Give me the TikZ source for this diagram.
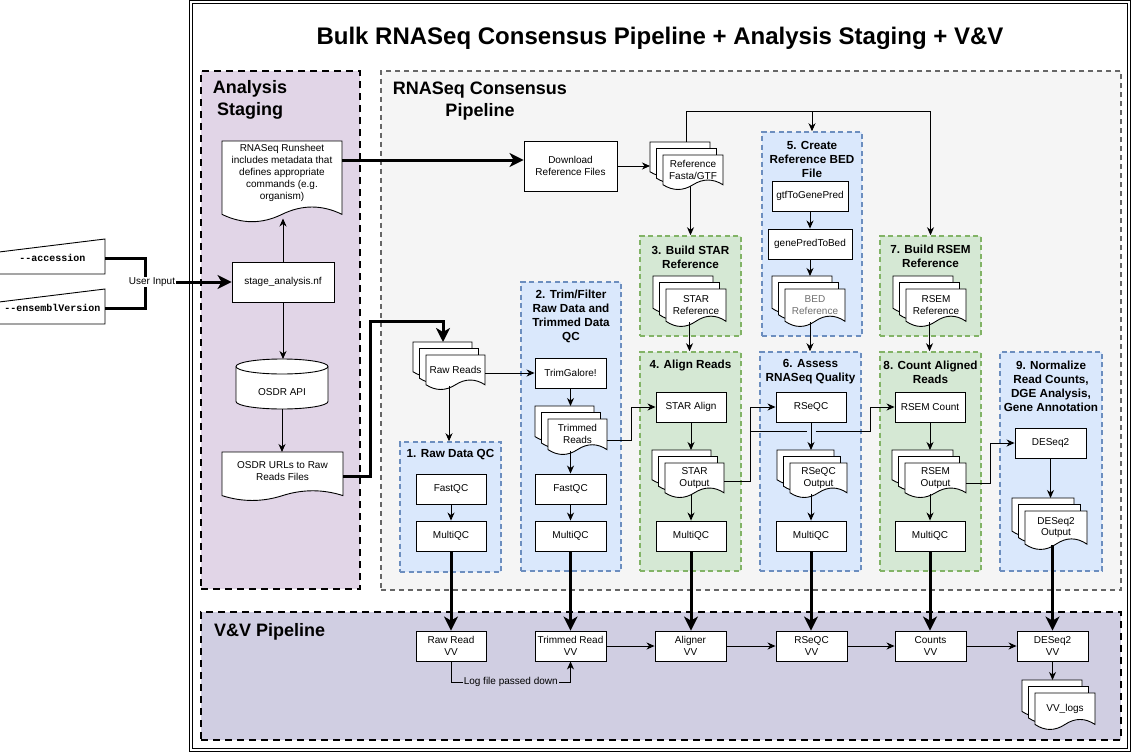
\documentclass[tikz,border=0pt]{standalone}
\usepackage{fontspec}
\setmainfont{Liberation Sans}
\newfontfamily\monobf{Liberation Mono}
\usetikzlibrary{arrows.meta,calc}
\definecolor{purplefill}{HTML}{E1D5E7}
\definecolor{grayfill}{HTML}{F5F5F5}
\definecolor{graydraw}{HTML}{666666}
\definecolor{bluefill}{HTML}{DAE8FC}
\definecolor{bluedraw}{HTML}{6C8EBF}
\definecolor{greenfill}{HTML}{D5E8D4}
\definecolor{greendraw}{HTML}{82B366}
\definecolor{vvfill}{HTML}{D0CEE2}
\definecolor{bedtext}{HTML}{707070}

\tikzset{
 proc/.style={draw=black, fill=white, line width=0.9pt, inner sep=1pt, align=center, font=\fontsize{10}{11.8}\selectfont},
 ghost/.style={inner sep=0pt, outer sep=0pt, align=center, font=\fontsize{10}{11.8}\selectfont},
 docline/.style={draw=black, fill=white, line width=0.9pt},
 grppurple/.style={draw=black, fill=purplefill, line width=1.6pt, dash pattern=on 7pt off 5pt},
 grpgray/.style={draw=graydraw, fill=grayfill, line width=1.2pt, dash pattern=on 5pt off 4pt},
 grpvv/.style={draw=black, fill=vvfill, line width=1.6pt, dash pattern=on 7pt off 5pt},
 grpblue/.style={draw=bluedraw, fill=bluefill, line width=1.5pt, dash pattern=on 5pt off 3.5pt},
 grpgreen/.style={draw=greendraw, fill=greenfill, line width=1.5pt, dash pattern=on 5pt off 3.5pt},
 outerframe/.style={draw=black, double, double distance=1.5pt, line width=1pt},
 arr/.style={draw=black, line width=0.9pt, -{Stealth[length=8pt,width=7pt,inset=2.5pt]}},
 fat/.style={draw=black, line width=3pt, -{Stealth[length=14pt,width=14pt,inset=4pt]}},
 fatline/.style={draw=black, line width=3pt},
 steptitle/.style={font=\fontsize{11.7}{14}\selectfont\bfseries, align=center, inner sep=0pt},
 sectitle/.style={font=\fontsize{18}{22}\selectfont\bfseries, align=center, inner sep=0pt},
 monotext/.style={inner sep=0pt, font=\monobf\bfseries\fontsize{10}{12}\selectfont},
}

% box from corners: name, x0, y0, x1, y1, style, text
\newcommand{\bx}[7]{%
 \pgfmathsetmacro{\zcx}{(#2+#4)/2}\pgfmathsetmacro{\zcy}{(#3+#5)/2}%
 \pgfmathsetmacro{\zw}{#4-#2}\pgfmathsetmacro{\zh}{#5-#3}%
 \node[#6, minimum width=\zw pt, minimum height=\zh pt] (#1) at (\zcx,\zcy) {#7};%
}
% document shape with wavy bottom: x0, y0, x1, y1, size
\newcommand{\wavedoc}[5]{%
 \pgfmathsetmacro{\zA}{#4-0.5*#5*(#4-#2)}%
 \pgfmathsetmacro{\zB}{#4-1.4*#5*(#4-#2)}%
 \pgfmathsetmacro{\zC}{#4+0.4*#5*(#4-#2)}%
 \pgfmathsetmacro{\zM}{(#1+#3)/2}%
 \pgfmathsetmacro{\zQ}{#1+0.75*(#3-#1)}%
 \pgfmathsetmacro{\zP}{#1+0.25*(#3-#1)}%
 \pgfmathsetmacro{\zcAx}{#3+2/3*(\zQ-#3)}%
 \pgfmathsetmacro{\zcBx}{\zM+2/3*(\zQ-\zM)}%
 \pgfmathsetmacro{\zcUy}{\zA+2/3*(\zB-\zA)}%
 \pgfmathsetmacro{\zcCx}{\zM+2/3*(\zP-\zM)}%
 \pgfmathsetmacro{\zcDx}{#1+2/3*(\zP-#1)}%
 \pgfmathsetmacro{\zcLy}{\zA+2/3*(\zC-\zA)}%
 \path[docline] (#1,#2) -- (#3,#2) -- (#3,\zA) .. controls (\zcAx,\zcUy) and (\zcBx,\zcUy) .. (\zM,\zA) .. controls (\zcCx,\zcLy) and (\zcDx,\zcLy) .. (#1,\zA) -- cycle;%
}
% multiple documents: name, x0, y0, x1, y1, text, text style
\newcommand{\multidoc}[7]{%
 \pgfmathsetmacro{\zbx}{#4-13}\pgfmathsetmacro{\zby}{#5-13}%
 \wavedoc{#2}{#3}{\zbx}{\zby}{0.3}%
 \pgfmathsetmacro{\zmxa}{#2+6.5}\pgfmathsetmacro{\zmya}{#3+6.5}\pgfmathsetmacro{\zmxb}{#4-6.5}\pgfmathsetmacro{\zmyb}{#5-6.5}%
 \wavedoc{\zmxa}{\zmya}{\zmxb}{\zmyb}{0.3}%
 \pgfmathsetmacro{\zfx}{#2+13}\pgfmathsetmacro{\zfy}{#3+13}%
 \wavedoc{\zfx}{\zfy}{#4}{#5}{0.3}%
 \pgfmathsetmacro{\zcx}{(#2+#4)/2}\pgfmathsetmacro{\zcy}{(#3+#5)/2}%
 \pgfmathsetmacro{\zw}{#4-#2}\pgfmathsetmacro{\zh}{#5-#3}%
 \node[ghost, minimum width=\zw pt, minimum height=\zh pt] (#1) at (\zcx,\zcy) {};%
 \pgfmathsetmacro{\zby}{#5-0.12*(#5-\zfy)}%
 \coordinate (#1-b) at (\zcx,\zby);%
 \pgfmathsetmacro{\ztx}{(\zfx+#4)/2}\pgfmathsetmacro{\zty}{\zfy+0.425*(#5-\zfy)}%
 \node[ghost, #7] (#1-t) at (\ztx,\zty) {#6};%
}

\begin{document}
\begin{tikzpicture}[x=1pt,y=-1pt]
\useasboundingbox (0,0) rectangle (1132,752);
\fill[white] (0,0) rectangle (1132,752);

% outer frame and title
\bx{frame}{191}{2}{1129}{750}{outerframe}{}
\node[font=\fontsize{24}{28}\selectfont\bfseries, inner sep=0pt] (title) at (660,38) {Bulk RNASeq Consensus Pipeline + Analysis Staging + V\&V};

% big groups
\bx{staging}{201}{71}{360}{589}{grppurple}{}
\bx{consensus}{381}{71}{1121}{590}{grpgray}{}
\bx{vv}{201}{612}{1121}{740}{grpvv}{}

\node[sectitle] (tstaging) at (250,100) {Analysis\\Staging};
\node[sectitle] (tcons) at (480,101) {RNASeq Consensus\\Pipeline};
\node[sectitle, anchor=west] (tvv) at (214,632) {V\&V Pipeline};

% step groups
\bx{box1}{400}{442}{501}{572}{grpblue}{}
\bx{box2}{521}{282}{621}{571}{grpblue}{}
\bx{box3}{640}{236}{741}{336}{grpgreen}{}
\bx{box4}{640}{352}{741}{571}{grpgreen}{}
\bx{box5}{762}{132}{862}{336}{grpblue}{}
\bx{box6}{760}{352}{861}{571}{grpblue}{}
\bx{box7}{880}{236}{981}{336}{grpgreen}{}
\bx{box8}{880}{352}{981}{571}{grpgreen}{}
\bx{box9}{1000}{352}{1102}{571}{grpblue}{}

\node[steptitle] (s1) at (450.5,455) {1. Raw Data QC};
\node[steptitle] (s2) at (571,316) {2. Trim/Filter\\Raw Data and\\Trimmed Data\\QC};
\node[steptitle] (s3) at (690.5,257) {3. Build STAR\\Reference};
\node[steptitle] (s4) at (690.5,365) {4. Align Reads};
\node[steptitle] (s5) at (812,159) {5. Create\\Reference BED\\File};
\node[steptitle] (s6) at (810.5,372) {6. Assess\\RNASeq Quality};
\node[steptitle] (s7) at (930.5,256) {7. Build RSEM\\Reference};
\node[steptitle] (s8) at (930.5,372) {8. Count Aligned\\Reads};
\node[steptitle] (s9) at (1051,386) {9. Normalize\\Read Counts,\\DGE Analysis,\\Gene Annotation};

% user inputs
\path[docline] (-1,252) -- (105,239) -- (105,274) -- (-1,274) -- cycle;
\path[docline] (-1,302) -- (105,289) -- (105,324) -- (-1,324) -- cycle;
\node[monotext, minimum width=105pt] (acc) at (52.5,258) {-{}-accession};
\node[monotext, minimum width=105pt] (ens) at (52.5,308) {-{}-ensemblVersion};

% analysis staging contents
\bx{stage}{232}{262}{334}{302}{proc}{stage\_analysis.nf}
\wavedoc{222}{141}{342}{222.5}{0.2}
\bx{rs}{222}{141}{342}{222.5}{ghost}{}
\node[ghost] (rs-t) at (282,173) {RNASeq Runsheet\\includes metadata that\\defines appropriate\\commands (e.g.\\organism)};
\path[docline] (236,366.5) -- (236,401.5) arc[start angle=180, end angle=360, x radius=46pt, y radius=7.5pt] -- (328,366.5) arc[start angle=0, end angle=180, x radius=46pt, y radius=7.5pt] -- cycle;
\draw[line width=0.9pt] (236,366.5) arc[start angle=180, end angle=360, x radius=46pt, y radius=7.5pt];
\bx{osdr}{236}{359}{328}{409}{ghost}{}
\node[ghost] (osdr-t) at (282,392) {OSDR API};
\wavedoc{222}{452}{343}{501}{0.22}
\bx{urls}{222}{452}{343}{501}{ghost}{}
\node[ghost] (urls-t) at (282.5,471) {OSDR URLs to Raw\\Reads Files};

% consensus contents
\bx{dl}{524}{141}{617}{191}{proc}{Download\\Reference Files}
\multidoc{fasta}{650}{142}{723}{190}{Reference\\Fasta/GTF}{}
\multidoc{starref}{653}{276}{726}{327}{STAR\\Reference}{}
\bx{gtf}{772}{181}{848}{211}{proc}{gtfToGenePred}
\bx{gpbed}{768}{229}{852}{259}{proc}{genePredToBed}
\multidoc{bedref}{772}{276}{845}{327}{BED\\Reference}{text=bedtext}
\multidoc{rsemref}{893}{276}{966}{327}{RSEM\\Reference}{}

\multidoc{raw}{413}{342}{485}{390}{Raw Reads}{}
\bx{fq1}{416}{474}{486}{504}{proc}{FastQC}
\bx{mq1}{416}{521}{486}{551}{proc}{MultiQC}

\bx{trim}{535}{358}{606}{388}{proc}{TrimGalore!}
\multidoc{trimmed}{535}{406}{607}{455}{Trimmed\\Reads}{}
\bx{fq2}{535}{474}{606}{504}{proc}{FastQC}
\bx{mq2}{535}{521}{606}{551}{proc}{MultiQC}

\bx{staralign}{656}{392}{726}{422}{proc}{STAR Align}
\multidoc{staro}{652}{450}{724}{498}{STAR\\Output}{}
\bx{mq4}{656}{521}{726}{551}{proc}{MultiQC}

\bx{rseqc}{776}{392}{846}{422}{proc}{RSeQC}
\multidoc{rseqco}{777}{450}{847}{498}{RSeQC\\Output}{}
\bx{mq6}{776}{521}{846}{551}{proc}{MultiQC}

\bx{rsemc}{895}{392}{965}{422}{proc}{RSEM Count}
\multidoc{rsemo}{892}{450}{966}{498}{RSEM\\Output}{}
\bx{mq8}{895}{521}{965}{551}{proc}{MultiQC}

\bx{deseq}{1015}{428}{1086}{458}{proc}{DESeq2}
\multidoc{deseqo}{1012}{498}{1087}{550}{DESeq2\\Output}{}

% V&V contents
\bx{rawvv}{416}{631}{486}{661}{proc}{Raw Read\\VV}
\bx{trimvv}{535}{631}{606}{661}{proc}{Trimmed Read\\VV}
\bx{alignvv}{655}{631}{726}{661}{proc}{Aligner\\VV}
\bx{rseqcvv}{776}{631}{847}{661}{proc}{RSeQC\\VV}
\bx{countsvv}{895}{631}{966}{661}{proc}{Counts\\VV}
\bx{deseqvv}{1017}{631}{1088}{661}{proc}{DESeq2\\VV}
\multidoc{vvlogs}{1022}{680}{1095}{730}{VV\_logs}{}

% ---------- connectors ----------
\coordinate (ujoin) at (145,282);
\draw[fatline] (acc.east) -| (ujoin) |- (ens.east);
\draw[fat] (ujoin) -- (stage.west);
\node[fill=white, inner sep=1pt, font=\fontsize{10}{12}\selectfont] (ulab) at (152,282) {User Input};

\draw[arr] (stage.north) -- (stage.north |- 0,218.5);
\draw[fat] (rs.east |- 0,160) -- (dl.west |- 0,160);
\draw[arr] (stage.south) -- (stage.south |- osdr.north);
\draw[arr] (osdr.south) -- (osdr.south |- urls.north);
\draw[fat] (urls.east |- 0,476.5) -| (370,321.7) -| (443,0 |- raw.north);

\draw[arr] (dl.east) -- (dl.east -| fasta.west);
\draw[arr] (fasta-b -| box3.north) -- (box3.north);
\draw[arr] (fasta.north) |- (box7.north |- 0,111) -- (box7.north);
\draw[arr] (box5.north |- 0,111) -- (box5.north);

\draw[arr] (gtf.south) -- (gtf.south |- gpbed.north);
\draw[arr] (gpbed.south) -- (gpbed.south |- bedref.north);
\draw[arr] (starref-b) -- (starref-b |- box4.north);
\draw[arr] (bedref-b -| gpbed.south) -- (gpbed.south |- box6.north);
\draw[arr] (rsemref-b) -- (rsemref-b |- box8.north);

\draw[arr] (raw.east |- trim.west) -- (trim.west);
\draw[arr] (raw-b) -- (raw-b |- box1.north);
\draw[arr] (fq1.south) -- (mq1.north);
\draw[arr] (trim.south) -- (trim.south |- trimmed.north);
\draw[arr] (trimmed-b -| fq2.north) -- (fq2.north);
\draw[arr] (fq2.south) -- (mq2.north);
\draw[arr] (trimmed.east |- 0,440) -| (631,0 |- staralign.west) -- (staralign.west);

\draw[arr] (staralign.south) -- (staralign.south |- staro.north);
\draw[arr] (staro-b -| mq4.north) -- (mq4.north);
\draw[arr] (staro.east |- 0,481) -| (750,0 |- rseqc.west) -- (rseqc.west);
\draw[arr] (staro.east |- 0,481) -| (750,431.7) -- (806.5,431.7) (815.5,431.7) -- (870,431.7) |- (rsemc.west);

\draw[arr] (rseqc.south) -- (rseqc.south |- rseqco.north);
\draw[arr] (rseqco-b -| mq6.north) -- (mq6.north);
\draw[arr] (rsemc.south) -- (rsemc.south |- rsemo.north);
\draw[arr] (rsemo-b -| mq8.north) -- (mq8.north);
\draw[arr] (rsemo.east |- 0,483.5) -| (990,0 |- deseq.west) -- (deseq.west);
\draw[arr] (deseq.south) -- (deseq.south |- deseqo.north);

% to V&V
\draw[fat] (mq1.south) -- (mq1.south |- rawvv.north);
\draw[fat] (mq2.south) -- (mq2.south |- trimvv.north);
\draw[fat] (mq4.south) -- (mq4.south |- alignvv.north);
\draw[fat] (mq6.south) -- (mq6.south |- rseqcvv.north);
\draw[fat] (mq8.south) -- (mq8.south |- countsvv.north);
\draw[fat] (deseqo-b -| deseqvv.north) -- (deseqvv.north);

\draw[arr] (trimvv.east) -- (alignvv.west);
\draw[arr] (alignvv.east) -- (rseqcvv.west);
\draw[arr] (rseqcvv.east) -- (countsvv.west);
\draw[arr] (countsvv.east) -- (deseqvv.west);
\draw[arr] (rawvv.south) -- (rawvv.south |- 0,682) -- node[fill=vvfill, inner sep=1pt, font=\fontsize{10}{12}\selectfont] (loglab) {Log file passed down} (trimvv.south |- 0,682) -- (trimvv.south);
\draw[arr] (deseqvv.south) -- (deseqvv.south |- vvlogs.north);
\end{tikzpicture}
\end{document}
